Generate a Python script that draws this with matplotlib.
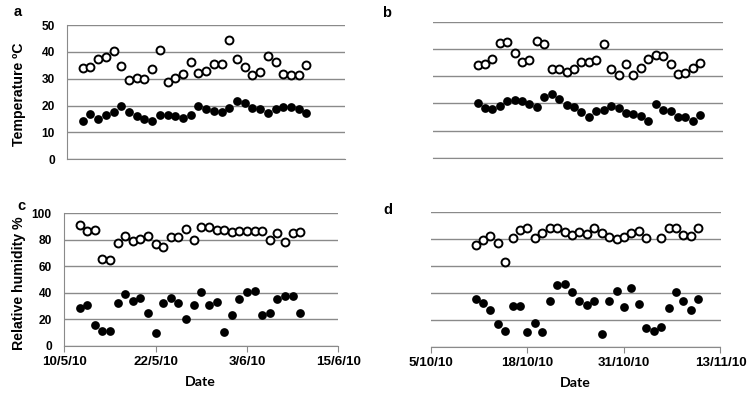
import matplotlib
matplotlib.use('Agg')
import matplotlib.pyplot as plt
import numpy as np
import pandas as pd

# daily series, May-June 2010 (a, c) and Oct-Nov 2010 (b, d)
may_days = pd.date_range('2010-05-12', '2010-06-10')
oct_days = pd.date_range('2010-10-11', '2010-11-10')

temp_max_may = [33.9, 34.5, 37.2, 38.1, 40.4, 34.7, 29.5, 30.4, 29.8, 33.5,
                40.6, 28.8, 30.1, 31.6, 36.1, 32.1, 32.9, 35.6, 35.5, 44.4,
                37.3, 34.5, 31.3, 32.5, 38.3, 36.4, 31.6, 31.4, 31.4, 35.1]
temp_min_may = [14.3, 17.0, 14.9, 16.5, 17.7, 19.9, 17.7, 16.3, 15.0, 14.3,
                16.5, 16.5, 16.0, 15.5, 16.5, 19.9, 18.9, 18.1, 17.7, 19.1,
                21.8, 21.0, 19.0, 18.6, 17.1, 18.9, 19.4, 19.4, 18.6, 17.4]
temp_max_oct = [34.2, 34.5, 36.5, 42.3, 42.8, 38.6, 35.1, 35.9, 43.0, 41.9,
                32.8, 32.6, 31.7, 32.6, 35.1, 35.1, 35.9, 41.8, 32.8, 30.6,
                34.6, 30.3, 33.0, 36.5, 37.8, 37.3, 34.4, 30.8, 31.3, 33.2, 34.8]
temp_min_oct = [20.0, 18.2, 17.8, 18.9, 20.9, 21.3, 20.8, 19.7, 18.6, 22.2,
                23.3, 21.6, 19.4, 18.6, 17.0, 15.1, 17.2, 17.4, 19.2, 18.4,
                16.3, 16.2, 15.4, 13.5, 19.8, 17.6, 17.1, 15.1, 15.0, 13.5, 15.6]
rh_max_may = [90.9, 86.4, 87.7, 65.5, 65.0, 77.6, 82.9, 78.8, 80.6, 83.1,
              76.6, 74.3, 81.9, 81.9, 87.9, 80.1, 89.7, 89.4, 87.2, 87.2,
              85.9, 86.9, 86.9, 86.9, 86.9, 79.8, 84.9, 78.6, 85.4, 86.1]
rh_min_may = [28.2, 30.7, 15.9, 11.1, 11.1, 32.5, 39.3, 33.5, 36.3, 24.9,
              9.3, 32.5, 36.3, 32.2, 20.2, 30.7, 40.3, 30.5, 32.7, 10.6,
              22.9, 35.5, 40.6, 41.1, 22.9, 24.7, 35.0, 37.8, 37.8, 24.7]
rh_max_oct = [75.5, 79.2, 82.7, 77.5, 63.1, 80.7, 86.6, 88.1, 80.7, 84.7,
              88.1, 88.1, 85.6, 83.2, 85.1, 83.7, 88.1, 84.9, 81.9, 80.0,
              81.7, 84.7, 86.4, 81.2, np.nan, 80.9, 88.1, 88.1, 83.2, 82.4, 88.4]
rh_min_oct = [35.4, 32.7, 27.0, 16.6, 11.4, 30.2, 30.2, 10.9, 17.3, 10.9,
              33.9, 45.8, 46.3, 40.8, 33.7, 30.9, 33.7, 9.2, 33.7, 41.8,
              29.2, 43.8, 31.4, 13.9, 11.9, 14.4, 28.7, 40.8, 33.9, 27.0, 35.4]

may_ticks = pd.to_datetime(['2010-05-10', '2010-05-22', '2010-06-03', '2010-06-15'])
may_labels = ['10/5/10', '22/5/10', '3/6/10', '15/6/10']
oct_ticks = pd.to_datetime(['2010-10-05', '2010-10-18', '2010-10-31', '2010-11-13'])
oct_labels = ['5/10/10', '18/10/10', '31/10/10', '13/11/10']

W, H = 753, 393
plt.rcParams['font.family'] = ['Liberation Sans', 'DejaVu Sans']
plt.rcParams['font.weight'] = 'bold'
fig = plt.figure(figsize=(W / 100, H / 100), dpi=100)

GRID = '#8a8a8a'


def add_panel(left, top, right, bottom):
    return fig.add_axes([left / W, 1 - bottom / H, (right - left) / W, (bottom - top) / H])


def style(ax, days, hi, lo, ticks, labels, ymax, ystep, show_y, show_x):
    ax.plot(days, lo, 'o', color='black', markersize=6.3, markeredgewidth=0, zorder=3)
    ax.plot(days, hi, 'o', markerfacecolor='white', markeredgecolor='black',
            markersize=5.7, markeredgewidth=1.4, zorder=3)
    ax.set_xlim(ticks[0], ticks[-1])
    ax.set_ylim(0, ymax)
    ax.set_yticks(np.arange(0, ymax + 1, ystep))
    ax.yaxis.grid(True, color=GRID, linewidth=1.0)
    ax.set_axisbelow(True)
    for s in ['top', 'right']:
        ax.spines[s].set_visible(False)
    ax.spines['bottom'].set_color(GRID)
    ax.spines['left'].set_color(GRID)
    ax.spines['left'].set_visible(show_y)
    ax.tick_params(axis='y', length=0, pad=9, labelsize=8.6, labelleft=show_y)
    ax.set_xticks(ticks)
    if show_x:
        ax.set_xticklabels(labels)
        ax.tick_params(axis='x', length=4, color=GRID, pad=3.5, labelsize=9.6)
    else:
        ax.tick_params(axis='x', length=0, labelbottom=False)


ax_a = add_panel(67.3, 25, 345, 159.3)
style(ax_a, may_days, temp_max_may, temp_min_may, may_ticks, may_labels, 50, 10, True, False)
ax_b = add_panel(433, 22, 722.5, 157.7)
style(ax_b, oct_days, temp_max_oct, temp_min_oct, oct_ticks, oct_labels, 50, 10, False, False)
ax_c = add_panel(64.3, 213.3, 338.3, 345.7)
style(ax_c, may_days, rh_max_may, rh_min_may, may_ticks, may_labels, 100, 20, True, True)
ax_d = add_panel(431, 212.3, 720.5, 346.7)
style(ax_d, oct_days, rh_max_oct, rh_min_oct, oct_ticks, oct_labels, 100, 20, False, True)

fig.text(19 / W, 1 - 94 / H, 'Temperature \u00baC', rotation=90, ha='center', va='center', fontsize=10.2)
fig.text(19 / W, 1 - 283 / H, 'Relative humidity %', rotation=90, ha='center', va='center', fontsize=10.2)

for letter, x, y in [('a', 18, 12), ('b', 387, 13), ('c', 21, 206), ('d', 388, 210)]:
    fig.text(x / W, 1 - y / H, letter, ha='center', va='center', fontsize=10.5)

fig.text(200 / W, 1 - 382 / H, 'Date', ha='center', va='center', fontsize=10.2, family=['Lato', 'DejaVu Sans'])
fig.text(575 / W, 1 - 383 / H, 'Date', ha='center', va='center', fontsize=10.2, family=['Lato', 'DejaVu Sans'])

fig.savefig('out.png', dpi=100)
